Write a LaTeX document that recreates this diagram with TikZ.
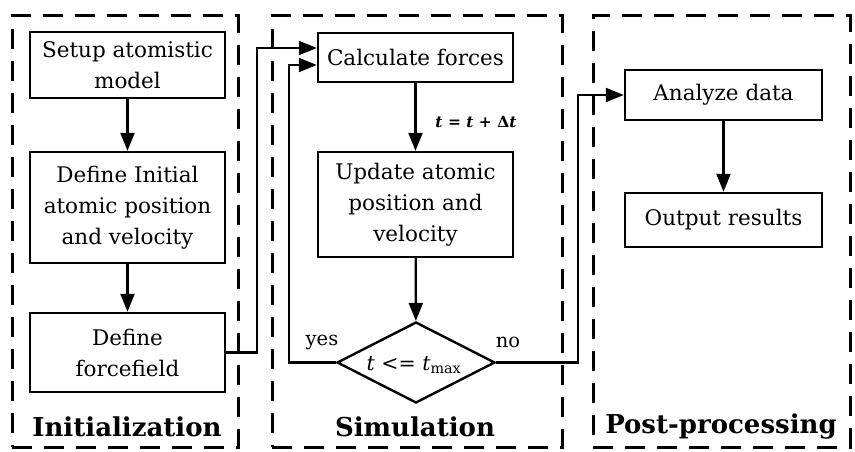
\documentclass[tikz,border=0pt]{standalone}
\usepackage{fontspec}
\setmainfont{DejaVu Serif}
\usetikzlibrary{arrows.meta,shapes.geometric,calc}
\begin{document}
\begin{tikzpicture}[x=1pt,y=-1pt,
  box/.style={draw,line width=2.4pt,rectangle,inner sep=0pt,align=center,
    font=\fontsize{21.5}{31}\selectfont},
  grp/.style={draw,line width=3pt,dash pattern=on 20pt off 12pt,rectangle,inner sep=0pt},
  lab/.style={font=\fontsize{26}{28}\selectfont\bfseries,inner sep=0pt},
  conn/.style={line width=2.2pt,-{Triangle[length=18pt,width=14pt]}},
  small/.style={font=\fontsize{19.5}{22}\selectfont,inner sep=0pt}]
\useasboundingbox (0,0) rectangle (855,452);
% groups
\node[grp,minimum width=226pt,minimum height=431pt] (gi) at (125,231.5) {};
\node[grp,minimum width=290pt,minimum height=431pt] (gs) at (417,231.5) {};
\node[grp,minimum width=257pt,minimum height=431pt] (gp) at (721.5,231.5) {};
\node[lab] (li) at (127,427) {Initialization};
\node[lab] (ls) at (415,427) {Simulation};
\node[lab] (lp) at (721,427) {Post-processing};
% boxes
\node[box,minimum width=195pt,minimum height=66pt] (setup) at (127.5,65) {Setup atomistic\\model};
\node[box,minimum width=195pt,minimum height=111pt] (init) at (127.5,207.5) {Define Initial\\atomic position\\and velocity};
\node[box,minimum width=195pt,minimum height=79pt] (ff) at (127.5,352.5) {Define\\forcefield};
\node[box,minimum width=195pt,minimum height=49pt] (calcf) at (415.5,57.5) {Calculate forces};
\node[box,minimum width=195pt,minimum height=105pt] (upd) at (415.5,204.5) {Update atomic\\position and\\velocity};
\node[draw,diamond,line width=2.4pt,inner sep=0pt,minimum width=158pt,minimum height=81pt] (dec) at (416,362.5) {};
\node[inner sep=0pt,font=\fontsize{20.5}{22}\selectfont] (dect) at (414,365) {\textit{t} <= \textit{t}\textsubscript{max}};
\node[box,minimum width=197pt,minimum height=50pt] (ana) at (723.5,95) {Analyze data};
\node[box,minimum width=197pt,minimum height=54pt] (out) at (723.5,220) {Output results};
% coordinates
\coordinate (inA) at ($(calcf.west)+(0,-9.5)$);
\coordinate (inB) at ($(calcf.west)+(0,7.5)$);
\coordinate (j1) at (257,355);
\coordinate (j2) at (289,362.5);
\coordinate (j3) at (578,362.5);
% connectors
\draw[conn] (setup) -- (init);
\draw[conn] (init) -- (ff);
\draw[conn] (ff.east) -- (ff.east -| j1) |- (inA);
\draw[conn] (calcf) -- (upd);
\node[inner sep=0pt,font=\fontsize{15.5}{18}\selectfont\bfseries\itshape] (dt) at (476,122) {t = t + {\upshape Δ}t};
\draw[conn] (upd) -- (dec);
\draw[conn] (dec.west) -- (j2) |- (inB);
\draw[conn] (dec.east) -- (j3) |- (ana.west);
\draw[conn] (ana) -- (out);
\node[small] (yes) at (322,342) {yes};
\node[small] (no) at (508,342) {no};
\end{tikzpicture}
\end{document}
